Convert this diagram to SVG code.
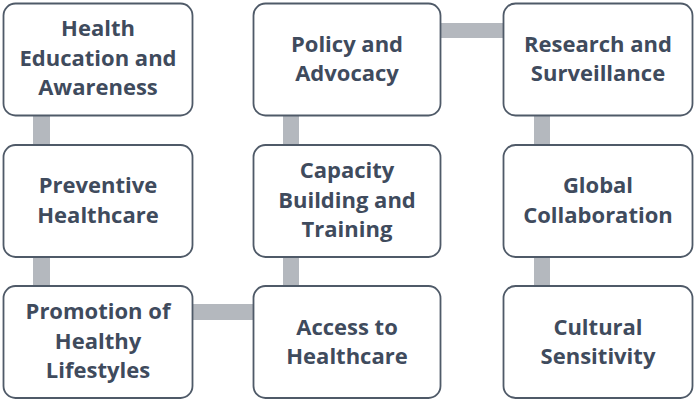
<svg xmlns="http://www.w3.org/2000/svg" width="700" height="406" viewBox="0 0 700 406">
<style>
.box{fill:#fff;stroke:#4f5a68;stroke-width:1.8}
.bar{fill:#b4b8be}
text{font-family:"Open Sans","DejaVu Sans",sans-serif;font-weight:700;font-size:22px;fill:#3f4b5d;text-anchor:middle;dominant-baseline:central}
</style>
<rect width="700" height="406" fill="#fff"/>
<g id="connectors">
<rect class="bar" x="33" y="114" width="17" height="33"/>
<rect class="bar" x="33" y="255" width="17" height="33"/>
<rect class="bar" x="191" y="304" width="65" height="16"/>
<rect class="bar" x="283" y="255" width="16" height="33"/>
<rect class="bar" x="283" y="114" width="16" height="33"/>
<rect class="bar" x="439" y="23" width="66" height="15"/>
<rect class="bar" x="534" y="114" width="16" height="33"/>
<rect class="bar" x="534" y="255" width="16" height="33"/>
</g>
<g id="n1"><rect class="box" x="3.5" y="3.5" width="189" height="112" rx="12"/><text x="98" y="27">Health</text><text x="98" y="57">Education and</text><text x="98" y="86">Awareness</text></g>
<g id="n2"><rect class="box" x="3.5" y="145" width="189" height="112" rx="12"/><text x="98" y="184">Preventive</text><text x="98" y="214">Healthcare</text></g>
<g id="n3"><rect class="box" x="3.5" y="286" width="189" height="112" rx="12"/><text x="98" y="310">Promotion of</text><text x="98" y="340">Healthy</text><text x="98" y="369">Lifestyles</text></g>
<g id="n4"><rect class="box" x="253.5" y="286" width="187" height="112" rx="12"/><text x="347" y="326">Access to</text><text x="347" y="355">Healthcare</text></g>
<g id="n5"><rect class="box" x="253.5" y="145" width="187" height="112" rx="12"/><text x="347" y="169">Capacity</text><text x="347" y="199">Building and</text><text x="347" y="228">Training</text></g>
<g id="n6"><rect class="box" x="253.5" y="3.5" width="187" height="112" rx="12"/><text x="347" y="43">Policy and</text><text x="347" y="72">Advocacy</text></g>
<g id="n7"><rect class="box" x="503.5" y="3.5" width="189" height="112" rx="12"/><text x="598" y="43">Research and</text><text x="598" y="72">Surveillance</text></g>
<g id="n8"><rect class="box" x="503.5" y="145" width="189" height="112" rx="12"/><text x="598" y="184">Global</text><text x="598" y="214">Collaboration</text></g>
<g id="n9"><rect class="box" x="503.5" y="286" width="189" height="112" rx="12"/><text x="598" y="326">Cultural</text><text x="598" y="355">Sensitivity</text></g>
</svg>
